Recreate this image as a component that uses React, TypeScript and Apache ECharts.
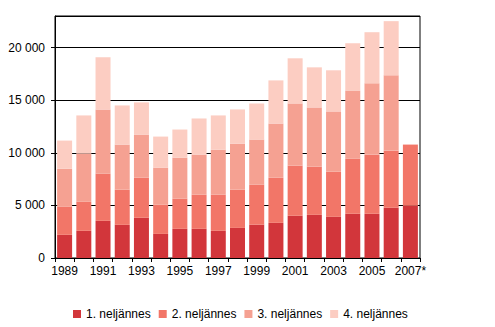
import React, { useEffect, useRef } from "react";
import * as echarts from "echarts";

const years = ["1989","1990","1991","1992","1993","1994","1995","1996","1997","1998","1999","2000","2001","2002","2003","2004","2005","2006","2007*"];
const q1 = [2200,2580,3530,3150,3820,2290,2770,2770,2580,2860,3150,3340,4010,4100,3910,4200,4200,4770,4960];
const q2 = [2660,2760,4480,3340,3810,2770,2860,3240,3430,3630,3810,4290,4770,4580,4290,5240,5630,5440,5820];
const q3 = [3630,4580,6110,4290,4100,3530,3910,3820,4290,4380,4300,5150,5910,5630,5730,6490,6770,7150,null];
const q4 = [2670,3630,4960,3720,3060,2950,2670,3430,3250,3250,3430,4100,4290,3810,3910,4480,4860,5150,null];
const seriesNames = ["1. neljännes","2. neljännes","3. neljännes","4. neljännes"];
const colors = ["#d2363b","#f27668","#f5a192","#fccdc2"];

export default function App() {
  const ref = useRef<HTMLDivElement>(null);
  useEffect(() => {
    const chart = echarts.init(ref.current!, null, { renderer: "svg" });
    const font = { fontFamily: "Liberation Sans, Arial, sans-serif", fontSize: 12, color: "#000" };
    chart.setOption({
      animation: false,
      color: colors,
      grid: { left: 55, right: 75, top: 16, bottom: 69, show: true, borderColor: "#000", borderWidth: 1, containLabel: false },
      legend: {
        left: 68, top: 303, itemWidth: 8, itemHeight: 8, itemGap: 8,
        icon: "rect",
        textStyle: { ...font },
        data: seriesNames,
      },
      xAxis: {
        type: "category",
        data: years,
        axisLine: { lineStyle: { color: "#000", width: 1 } },
        axisTick: { show: true, length: 4, interval: 0, lineStyle: { color: "#000" } },
        axisLabel: { ...font, interval: 1, margin: 7 },
      },
      yAxis: {
        type: "value",
        min: 0, max: 23000, interval: 5000,
        axisLine: { show: true, lineStyle: { color: "#000", width: 1 } },
        axisTick: { show: true, length: 4, lineStyle: { color: "#000" } },
        splitLine: { show: true, lineStyle: { color: "#000", width: 1 } },
        axisLabel: {
          ...font, margin: 10, showMaxLabel: false,
          formatter: (v: number) => (v === 23000 ? "" : v.toLocaleString("en-US").replace(/,/g, " ")),
        },
      },
      series: [q1, q2, q3, q4].map((d, i) => ({
        name: seriesNames[i],
        type: "bar",
        stack: "total",
        data: d,
        barWidth: 15,
        itemStyle: { color: colors[i] },
      })),
    });
    return () => chart.dispose();
  }, []);
  return <div ref={ref} style={{ width: 495, height: 327, position: "absolute", left: 0, top: 0 }} />;
}
